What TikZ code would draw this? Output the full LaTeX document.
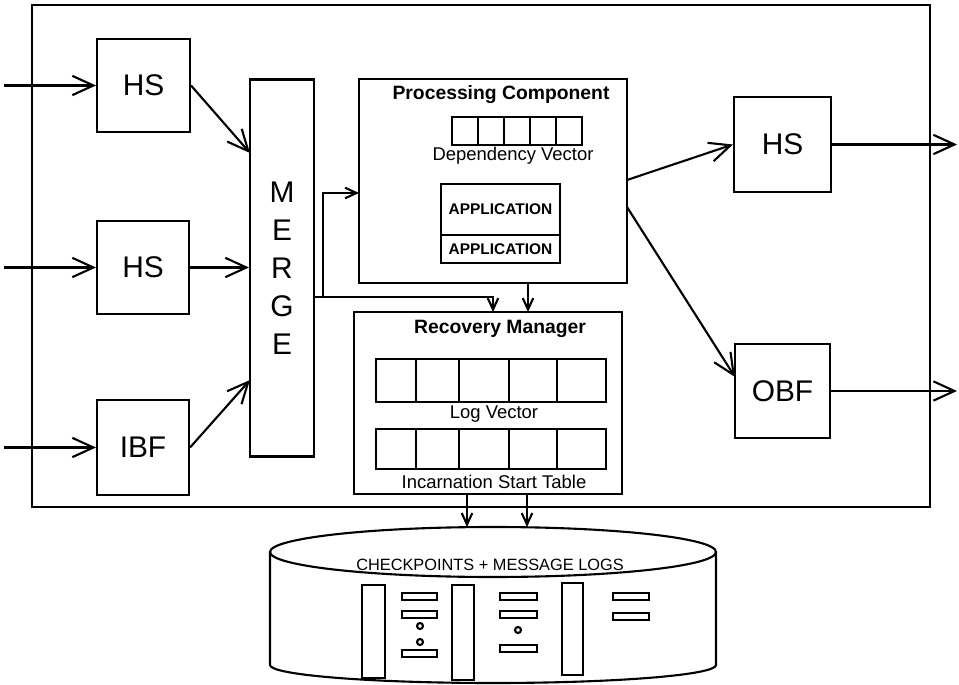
\documentclass[tikz,border=0pt]{standalone}
\usepackage{fontspec}
\setmainfont{Liberation Sans}
\usetikzlibrary{arrows.meta}

\begin{document}
\begin{tikzpicture}[x=0.02cm, y=-0.02cm, line width=1.2pt,
    box/.style={draw, rectangle, inner sep=0pt, font=\fontsize{17}{21.6}\selectfont},
    heading/.style={inner sep=0pt, font=\bfseries\fontsize{11}{13}\selectfont},
    lbl/.style={inner sep=0pt, font=\fontsize{10.5}{12}\selectfont},
    app/.style={draw, rectangle, inner sep=0pt, minimum width=2.38cm, font=\bfseries\fontsize{8.8}{10}\selectfont},
    bigarrow/.style={-{Straight Barb[length=12pt,width=11pt]}},
    smallarrow/.style={-{Straight Barb[length=6.5pt,width=6pt]}}]
    \useasboundingbox (0,0) rectangle (959,685);

    % Outer frame of the process
    \draw (32,5) rectangle (930,507);

    % Nodes for the input side
    \node[box, minimum width=1.86cm, minimum height=1.86cm] (hs1) at (143.5,85.5) {HS};
    \node[box, minimum width=1.84cm, minimum height=1.86cm] (hs2) at (143,267.5) {HS};
    \node[box, minimum width=1.84cm, minimum height=1.9cm] (ibf) at (143,447.5) {IBF};
    \node[box, minimum width=1.28cm, minimum height=7.54cm, align=center] (merge) at (282,268) {M\\E\\R\\G\\E};

    % Processing component
    \node[box, minimum width=5.36cm, minimum height=4.08cm] (pc) at (493,181) {};
    \node[heading] (pctitle) at (501,95) {Processing Component};
    \draw (452,117) rectangle (582,145) (478,117) -- (478,145) (504,117) -- (504,145)
          (530,117) -- (530,145) (556,117) -- (556,145);
    \node[lbl] (depvec) at (513,156) {Dependency Vector};
    \node[app, minimum height=1.02cm, text depth=-0.1cm] (app1) at (500.5,209.5) {APPLICATION};
    \node[app, minimum height=0.56cm] (app2) at (500.5,249) {APPLICATION};

    % Recovery manager
    \node[box, minimum width=5.36cm, minimum height=3.64cm] (rm) at (488,403) {};
    \node[heading] (rmtitle) at (500,329) {Recovery Manager};
    \draw (376,359) rectangle (606,402) (416,359) -- (416,402) (459,359) -- (459,402)
          (509,359) -- (509,402) (557,359) -- (557,402);
    \node[lbl] (logvec) at (494,414) {Log Vector};
    \draw (376,429) rectangle (606,469) (416,429) -- (416,469) (459,429) -- (459,469)
          (509,429) -- (509,469) (557,429) -- (557,469);
    \node[lbl] (inctab) at (494,482) {Incarnation Start Table};

    % Nodes for the output side
    \node[box, minimum width=1.94cm, minimum height=1.9cm] (hs3) at (782.5,144.5) {HS};
    \node[box, minimum width=1.9cm, minimum height=1.88cm] (obf) at (782.5,391) {OBF};

    % Stable storage
    \draw (493,552) ellipse [x radius=223, y radius=25];
    \draw (270,552) -- (270,665) arc[start angle=180, end angle=0, x radius=223, y radius=18] -- (716,552);
    \node[inner sep=0pt, font=\fontsize{9.3}{11}\selectfont] (store) at (490,565) {CHECKPOINTS + MESSAGE LOGS};
    \draw (362,585) rectangle (385,678) (452,585) rectangle (474,680) (562,583) rectangle (583,675);
    \draw (402,593) rectangle (437,600) (402,611) rectangle (437,618) (402,650) rectangle (437,657);
    \draw (420,626) circle[radius=3] (420,642) circle[radius=3];
    \draw (500,593) rectangle (537,600) (500,611) rectangle (537,618) (500,645) rectangle (537,652);
    \draw (518,630) circle[radius=3];
    \draw (613,593) rectangle (649,600) (613,613) rectangle (649,620);

    % Coordinates for free ends
    \coordinate (in1) at (4,85.5);
    \coordinate (in2) at (4,267.5);
    \coordinate (in3) at (4,447.5);
    \coordinate (m1) at (250,153);
    \coordinate (m3) at (250,380);
    \coordinate (split) at (323,297);
    \coordinate (pcin) at (359,193);
    \coordinate (rm1) at (493,312);
    \coordinate (rm2) at (528,312);
    \coordinate (pc1) at (627,180);
    \coordinate (pc2) at (627,207);
    \coordinate (obfin) at (735,377);
    \coordinate (out1) at (957,144.5);
    \coordinate (out2) at (957,391);
    \coordinate (db1) at (467,527);
    \coordinate (db2) at (527,527);

    % Edges for the input side
    \draw[bigarrow] (in1) -- (hs1.west);
    \draw[bigarrow] (in2) -- (hs2.west);
    \draw[bigarrow] (in3) -- (ibf.west);
    \draw[bigarrow] (hs1.east) -- (m1);
    \draw[bigarrow] (hs2.east) -- (merge.west |- hs2.east);
    \draw[bigarrow] (ibf.east) -- (m3);

    % Edges from merge to the components
    \draw (merge.east |- split) -- (split);
    \draw[smallarrow] (split) |- (pcin);
    \draw[smallarrow] (split) -| (rm1);
    \draw[smallarrow] (pc.south -| rm2) -- (rm2);

    % Edges for the output side
    \draw[bigarrow] (pc1) -- (hs3.west);
    \draw[bigarrow] (pc2) -- (obfin);
    \draw[bigarrow] (hs3.east) -- (out1);
    \draw[bigarrow] (obf.east) -- (out2);

    % Edges to stable storage
    \draw[smallarrow] (rm.south -| db1) -- (db1);
    \draw[smallarrow] (rm.south -| db2) -- (db2);
\end{tikzpicture}
\end{document}
